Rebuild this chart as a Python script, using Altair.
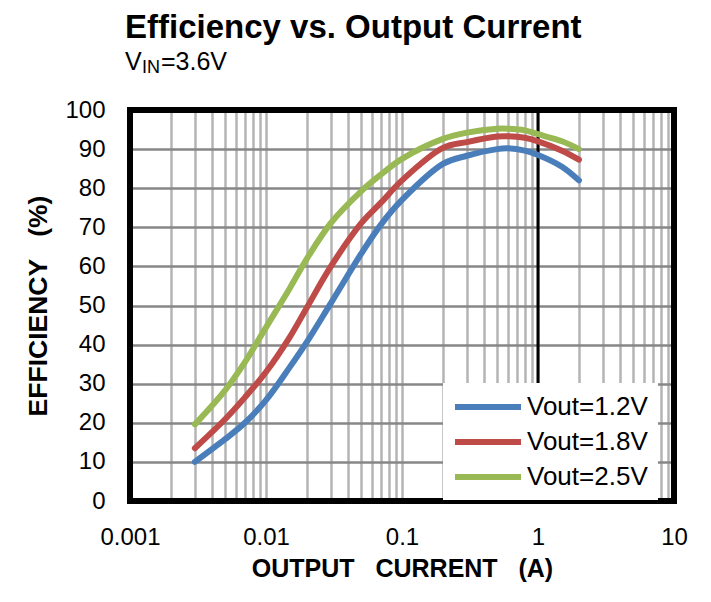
import altair as alt
import pandas as pd

# ---- data ----
current = [0.003, 0.005, 0.007, 0.01, 0.015, 0.02, 0.03, 0.05, 0.07, 0.1,
           0.2, 0.3, 0.5, 0.6, 0.8, 1.0, 1.5, 2.0]
eff_12 = [10, 15.8, 20.0, 25.8, 34.3, 40.7, 50.6, 63.2, 70.7, 77.0,
          86.2, 88.3, 90.0, 90.2, 89.6, 88.5, 85.5, 82]
eff_18 = [13.5, 20.9, 26.5, 33.0, 42.0, 49.5, 60.0, 71.0, 76.3, 82.0,
          90.3, 91.8, 93.2, 93.3, 92.9, 92.0, 89.6, 87.3]
eff_25 = [19.6, 28.3, 35.5, 44.4, 54.5, 62.0, 71.1, 79.2, 83.5, 87.5,
          92.6, 94.2, 95.2, 95.2, 94.8, 93.8, 92.0, 90]
series_names = ["Vout=1.2V", "Vout=1.8V", "Vout=2.5V"]
series_colors = ["#4A7EBB", "#BE4B48", "#98B954"]

x_grid_values = [m * 10.0 ** e for e in range(-3, 1) for m in range(1, 10)] + [10.0]
y_ticks = [0, 10, 20, 30, 40, 50, 60, 70, 80, 90, 100]

title_text = ["Efficiency vs. Output Current"]
sub_v = ["V"]
sub_in = ["IN"]
sub_rest = ["=3.6V"]

rows = []
for name, vals in zip(series_names, [eff_12, eff_18, eff_25]):
    for c, v in zip(current, vals):
        rows.append({"current": c, "eff": v, "series": name})
df = pd.DataFrame(rows)

W, H = 544, 391
FONT = "Liberation Sans"

xscale = alt.Scale(type="log", domain=[0.001, 10], nice=False)
yscale = alt.Scale(domain=[0, 100], nice=False)

base = alt.Chart(df)

lines = base.mark_line(strokeWidth=6, strokeCap="round", strokeJoin="round",
                       interpolate="catmull-rom").encode(
    x=alt.X("current:Q", scale=xscale,
            axis=alt.Axis(values=x_grid_values, format="~g",
                          labelExpr="abs(log(datum.value)/LN10 - round(log(datum.value)/LN10)) < 1e-6 ? datum.label : ''",
                          title="OUTPUT\u00a0\u00a0 CURRENT\u00a0\u00a0 (A)",
                          grid=True, gridColor="#B4B4B4", gridWidth=2.5, gridOpacity=1,
                          domain=False, ticks=False, tickSize=0,
                          labelFont=FONT, labelFontSize=24, labelColor="black",
                          labelPadding=24, labelFlush=False, labelOverlap=False,
                          titleFont=FONT, titleFontSize=25, titleFontWeight="bold",
                          titleColor="black", titlePadding=7)),
    y=alt.Y("eff:Q", scale=yscale,
            axis=alt.Axis(values=y_ticks, title="EFFICIENCY\u00a0\u00a0 (%)",
                          grid=True, gridColor="#878787", gridWidth=2.5, gridOpacity=1,
                          domain=False, ticks=False, tickSize=0,
                          labelFont=FONT, labelFontSize=24, labelColor="black",
                          labelPadding=25,
                          titleFont=FONT, titleFontSize=26.5, titleFontWeight="bold",
                          titleColor="black", titlePadding=12)),
    color=alt.Color("series:N",
                    scale=alt.Scale(domain=series_names, range=series_colors),
                    legend=alt.Legend(title=None, orient="none", legendX=313, legendY=273,
                                      fillColor="white", padding=10,
                                      symbolType="M-3,0H3", symbolSize=484,
                                      symbolStrokeWidth=6, symbolOffset=21,
                                      labelFont=FONT,
                                      labelFontSize=26, labelColor="black",
                                      labelOffset=25, rowPadding=8)),
)

one_line = alt.Chart(pd.DataFrame({"v": [1.0]})).mark_rule(color="black", strokeWidth=3).encode(
    x=alt.X("v:Q", scale=xscale)
)

frame = alt.Chart(pd.DataFrame({"v": [0]})).mark_rect(
    filled=False, stroke="black", strokeWidth=6, fillOpacity=0
).encode(x=alt.value(0), x2=alt.value(W), y=alt.value(0), y2=alt.value(H))

t1 = alt.Chart(pd.DataFrame({"t": title_text})).mark_text(
    align="left", baseline="alphabetic", font=FONT, fontSize=33, fontWeight="bold", color="black"
).encode(x=alt.value(-5), y=alt.value(-72), text="t:N")

s1 = alt.Chart(pd.DataFrame({"t": sub_v})).mark_text(
    align="left", baseline="alphabetic", font=FONT, fontSize=25, color="black"
).encode(x=alt.value(-5), y=alt.value(-40), text="t:N")
s2 = alt.Chart(pd.DataFrame({"t": sub_in})).mark_text(
    align="left", baseline="alphabetic", font=FONT, fontSize=18, color="black"
).encode(x=alt.value(12), y=alt.value(-37), text="t:N")
s3 = alt.Chart(pd.DataFrame({"t": sub_rest})).mark_text(
    align="left", baseline="alphabetic", font=FONT, fontSize=25, color="black"
).encode(x=alt.value(31), y=alt.value(-40), text="t:N")

chart = alt.layer(one_line, lines, frame, t1, s1, s2, s3).properties(
    width=W, height=H,
    autosize=alt.AutoSizeParams(type="none"),
    padding={"left": 122, "top": 102, "right": 29, "bottom": 92},
).configure_view(stroke=None).configure(background="white")

chart.save("out.html", embed_options={"renderer": "svg", "actions": False})
